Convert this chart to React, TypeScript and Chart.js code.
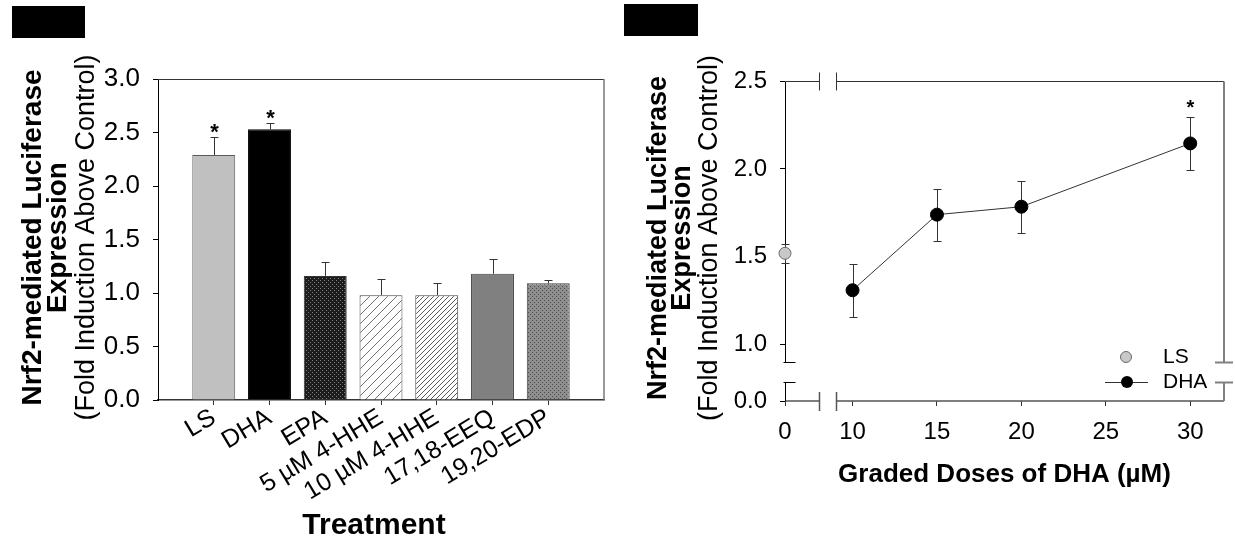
import React, { useEffect, useRef } from 'react';
import { Chart, registerables, LinearScale } from 'chart.js';

Chart.register(...registerables);

// ---------------- Panel A data (bar chart) ----------------
const treatments = ['LS', 'DHA', 'EPA', '5 µM 4-HHE', '10 µM 4-HHE', '17,18-EEQ', '19,20-EDP'];
const foldInduction = [2.29, 2.53, 1.16, 0.98, 0.98, 1.18, 1.09];
const foldInductionSE = [0.17, 0.06, 0.13, 0.15, 0.11, 0.14, 0.03];
const treatmentSignificant = [true, true, false, false, false, false, false];
const treatmentYTicks = [0, 0.5, 1.0, 1.5, 2.0, 2.5, 3.0];

// ---------------- Panel B data (dose response) ----------------
const lsDose = [0];
const lsMean = [1.52];
const lsSE = [0.055];
const dhaDoses = [10, 15, 20, 30];
const dhaMean = [1.31, 1.74, 1.785, 2.145];
const dhaSE = [0.15, 0.148, 0.149, 0.15];
const dhaSignificant = [false, false, false, true];
const doseTicks = [0, 10, 15, 20, 25, 30];
const doseYTicks = [0, 1.0, 1.5, 2.0, 2.5];

// ---------------- Text ----------------
const yTitleLines = ['Nrf2-mediated Luciferase', 'Expression', '(Fold Induction Above Control)'];
const xTitleA = 'Treatment';
const xTitleB = 'Graded Doses of DHA (µM)';
const legendLabels = ['LS', 'DHA'];

const FONT = '"Liberation Sans", Arial, Helvetica, sans-serif';

// ---------------- Broken linear scale ----------------
function compress(v: number, f: number, t: number, g: number) {
  if (v <= f) return v;
  if (v >= t) return v - (t - f) + g;
  return f + ((v - f) / (t - f)) * g;
}
function expand(c: number, f: number, t: number, g: number) {
  if (c <= f) return c;
  if (c >= f + g) return c + (t - f) - g;
  return f + ((c - f) / g) * (t - f);
}
class BrokenLinearScale extends LinearScale {
  static id = 'brokenLinear';
  static defaults = {};
  brk() {
    const o: any = this.options;
    return [o.breakFrom, o.breakTo, o.breakGap];
  }
  getPixelForValue(value: any) {
    if (value === null || value === undefined) return NaN;
    const [f, t, g] = this.brk();
    return super.getPixelForValue(compress(value, f, t, g));
  }
  getValueForPixel(pixel: number) {
    const [f, t, g] = this.brk();
    return expand(super.getValueForPixel(pixel) as number, f, t, g);
  }
}
Chart.register(BrokenLinearScale as any);

// ---------------- helpers ----------------
function makePattern(size: number, draw: (g: CanvasRenderingContext2D, s: number) => void) {
  const c = document.createElement('canvas');
  c.width = size;
  c.height = size;
  const g = c.getContext('2d')!;
  draw(g, size);
  return g.createPattern(c, 'repeat')!;
}
function hatch(bg: string, fg: string) {
  return (g: CanvasRenderingContext2D, s: number) => {
    g.fillStyle = bg;
    g.fillRect(0, 0, s, s);
    g.strokeStyle = fg;
    g.lineWidth = 1;
    g.beginPath();
    g.moveTo(0, s);
    g.lineTo(s, 0);
    g.moveTo(-1, 1);
    g.lineTo(1, -1);
    g.moveTo(s - 1, s + 1);
    g.lineTo(s + 1, s - 1);
    g.stroke();
  };
}
function dots(bg: string, fg: string) {
  return (g: CanvasRenderingContext2D, s: number) => {
    g.fillStyle = bg;
    g.fillRect(0, 0, s, s);
    g.fillStyle = fg;
    g.fillRect(0, 0, 1, 1);
    g.fillRect(2, 2, 1, 1);
  };
}
function line(ctx: CanvasRenderingContext2D, x1: number, y1: number, x2: number, y2: number) {
  ctx.beginPath();
  ctx.moveTo(x1, y1);
  ctx.lineTo(x2, y2);
  ctx.stroke();
}
function drawYTitle(ctx: CanvasRenderingContext2D, baselines: number[], sizes: number[], yc: number) {
  yTitleLines.forEach((t, i) => {
    ctx.save();
    ctx.translate(baselines[i], yc);
    ctx.rotate(-Math.PI / 2);
    ctx.font = `${i < 2 ? 'bold ' : ''}${sizes[i]}px ${FONT}`;
    ctx.fillStyle = '#000';
    ctx.textAlign = 'center';
    ctx.textBaseline = 'alphabetic';
    ctx.fillText(t, 0, 0);
    ctx.restore();
  });
}

// ---------------- Panel A plugin ----------------
const panelAPlugin = {
  id: 'panelA',
  afterDatasetsDraw(chart: any) {
    const { ctx, scales } = chart;
    const x = scales.x;
    const y = scales.y;
    ctx.save();
    ctx.strokeStyle = '#333';
    ctx.lineWidth = 1;
    foldInduction.forEach((m, i) => {
      const px = Math.round(x.getPixelForValue(i + 1)) + 0.5;
      const y0 = y.getPixelForValue(m);
      const y1 = Math.round(y.getPixelForValue(m + foldInductionSE[i])) + 0.5;
      line(ctx, px, y0, px, y1);
      line(ctx, px - 4, y1, px + 4, y1);
      if (treatmentSignificant[i]) {
        ctx.fillStyle = '#000';
        ctx.font = `bold 22px ${FONT}`;
        ctx.textAlign = 'center';
        ctx.textBaseline = 'alphabetic';
        ctx.fillText('*', px, y1 + 1);
      }
    });
    ctx.restore();
  },
  afterDraw(chart: any) {
    const { ctx, chartArea: a } = chart;
    ctx.save();
    ctx.strokeStyle = '#333';
    ctx.lineWidth = 1;
    line(ctx, a.left, Math.round(a.top) + 0.5, a.right, Math.round(a.top) + 0.5);
    ctx.strokeStyle = '#777';
    ctx.lineWidth = 1.5;
    line(ctx, a.right, a.top, a.right, a.bottom);
    drawYTitle(ctx, [a.left - 117, a.left - 92, a.left - 64], [28, 28, 27], (a.top + a.bottom) / 2 - 2);
    ctx.font = `bold 30px ${FONT}`;
    ctx.fillStyle = '#000';
    ctx.textAlign = 'center';
    ctx.textBaseline = 'alphabetic';
    ctx.fillText(xTitleA, (a.left + a.right) / 2 - 7, a.bottom + 134);
    ctx.restore();
  },
};

// ---------------- Panel B plugin ----------------
function errBar(ctx: CanvasRenderingContext2D, x: any, y: any, xv: number, m: number, se: number) {
  const px = Math.round(x.getPixelForValue(xv)) + 0.5;
  const yt = Math.round(y.getPixelForValue(m + se)) + 0.5;
  const yb = Math.round(y.getPixelForValue(m - se)) + 0.5;
  line(ctx, px, yt, px, yb);
  line(ctx, px - 4, yt, px + 4, yt);
  line(ctx, px - 4, yb, px + 4, yb);
  return { px, yt };
}
const panelBPlugin = {
  id: 'panelB',
  beforeDatasetsDraw(chart: any) {
    const { ctx, chartArea: a, scales } = chart;
    const x = scales.x;
    const y = scales.y;
    const xo: any = x.options;
    const yo: any = y.options;
    const xb1 = Math.round(x.getPixelForValue(xo.breakFrom)) + 0.5;
    const xb2 = Math.round(x.getPixelForValue(xo.breakTo)) + 0.5;
    const yb1 = Math.round(y.getPixelForValue(yo.breakTo)) + 0.5;
    const yb2 = Math.round(y.getPixelForValue(yo.breakFrom)) + 0.5;
    const L = Math.round(a.left) + 0.5;
    const R = Math.round(a.right);
    const T = Math.round(a.top) + 0.5;
    const B = Math.round(a.bottom);
    ctx.save();
    // top frame
    ctx.strokeStyle = '#333';
    ctx.lineWidth = 1;
    line(ctx, L, T, xb1, T);
    line(ctx, xb1, T - 9, xb1, T + 9);
    line(ctx, xb2, T, R, T);
    line(ctx, xb2, T - 9, xb2, T + 9);
    // bottom axis
    ctx.strokeStyle = '#555';
    ctx.lineWidth = 1.5;
    line(ctx, L, B, xb1, B);
    line(ctx, xb1, B - 9, xb1, B + 10);
    line(ctx, xb2, B, R, B);
    line(ctx, xb2, B - 9, xb2, B + 10);
    // right frame
    ctx.strokeStyle = '#808080';
    ctx.lineWidth = 2;
    line(ctx, R, T, R, yb1);
    line(ctx, R - 9, yb1, R + 9, yb1);
    line(ctx, R, yb2, R, B);
    line(ctx, R - 9, yb2, R + 9, yb2);
    // left axis
    ctx.strokeStyle = '#000';
    ctx.lineWidth = 1;
    line(ctx, L, T, L, yb1);
    line(ctx, L - 2, yb1, L + 10, yb1);
    line(ctx, L, yb2, L, B);
    line(ctx, L - 2, yb2, L + 10, yb2);
    // error bars
    ctx.strokeStyle = '#333';
    ctx.lineWidth = 1;
    lsDose.forEach((d, i) => errBar(ctx, x, y, d, lsMean[i], lsSE[i]));
    dhaDoses.forEach((d, i) => {
      const { px, yt } = errBar(ctx, x, y, d, dhaMean[i], dhaSE[i]);
      if (dhaSignificant[i]) {
        ctx.fillStyle = '#000';
        ctx.font = `bold 20px ${FONT}`;
        ctx.textAlign = 'center';
        ctx.textBaseline = 'alphabetic';
        ctx.fillText('*', px, yt - 4);
      }
    });
    ctx.restore();
  },
  afterDraw(chart: any) {
    const { ctx, chartArea: a } = chart;
    ctx.save();
    // legend
    const lx = a.right - 98;
    const ly1 = a.bottom - 44;
    const ly2 = a.bottom - 19;
    ctx.fillStyle = '#c8c8c8';
    ctx.strokeStyle = '#6a6a6a';
    ctx.lineWidth = 1;
    ctx.beginPath();
    ctx.arc(lx, ly1, 5.5, 0, Math.PI * 2);
    ctx.fill();
    ctx.stroke();
    ctx.strokeStyle = '#333';
    line(ctx, lx - 21, ly2 + 0.5, lx + 22, ly2 + 0.5);
    ctx.fillStyle = '#000';
    ctx.beginPath();
    ctx.arc(lx + 1, ly2, 6, 0, Math.PI * 2);
    ctx.fill();
    ctx.font = `21px ${FONT}`;
    ctx.textAlign = 'left';
    ctx.textBaseline = 'middle';
    ctx.fillText(legendLabels[0], a.right - 61, ly1);
    ctx.fillText(legendLabels[1], a.right - 61, ly2);
    // titles
    drawYTitle(ctx, [a.left - 119, a.left - 95, a.left - 68], [27, 27, 27], (a.top + a.bottom) / 2 - 3);
    ctx.font = `bold 26px ${FONT}`;
    ctx.textAlign = 'center';
    ctx.textBaseline = 'alphabetic';
    ctx.fillText(xTitleB, (a.left + a.right) / 2, a.bottom + 81);
    ctx.restore();
  },
};

function configA(): any {
  const fills: any[] = [
    '#c0c0c0',
    '#000000',
    makePattern(4, dots('#1c1c1c', '#808080')),
    makePattern(9, hatch('#ffffff', '#707070')),
    makePattern(5, hatch('#ffffff', '#5a5a5a')),
    '#808080',
    makePattern(4, dots('#8e8e8e', '#4a4a4a')),
  ];
  const borders = ['#5a5a5a', '#000', '#333', '#444', '#444', '#444', '#444'];
  const lastIdx = treatments.length + 1;
  return {
    type: 'bar',
    data: {
      labels: ['', ...treatments, ''],
      datasets: [
        {
          data: [null, ...foldInduction, null],
          backgroundColor: ['rgba(0,0,0,0)', ...fills, 'rgba(0,0,0,0)'],
          borderColor: ['rgba(0,0,0,0)', ...borders, 'rgba(0,0,0,0)'],
          borderWidth: 1,
          categoryPercentage: 1,
          barPercentage: 0.77,
        },
      ],
    },
    options: {
      responsive: false,
      animation: false,
      devicePixelRatio: 1,
      events: [],
      layout: { padding: { left: 0, top: 79, right: 14, bottom: 0 } },
      plugins: { legend: { display: false }, tooltip: { enabled: false } },
      scales: {
        x: {
          type: 'category',
          offset: false,
          grid: {
            offset: false,
            drawOnChartArea: false,
            drawTicks: true,
            tickLength: 5,
            color: (c: any) => (c.index === 0 || c.index === lastIdx ? 'rgba(0,0,0,0)' : '#333'),
          },
          border: { display: true, color: '#333', width: 1.5 },
          ticks: {
            autoSkip: false,
            minRotation: 31,
            maxRotation: 31,
            padding: -2,
            color: '#000',
            font: { family: FONT, size: 25 },
          },
          afterFit: (s: any) => {
            s.height = 137;
          },
        },
        y: {
          type: 'linear',
          min: 0,
          max: 3,
          afterBuildTicks: (s: any) => {
            s.ticks = treatmentYTicks.map((v) => ({ value: v }));
          },
          grid: { drawOnChartArea: false, drawTicks: true, tickLength: 5, color: '#000' },
          border: { display: true, color: '#000', width: 1 },
          ticks: {
            padding: 13,
            color: '#000',
            font: { family: FONT, size: 26 },
            callback: (v: any) => Number(v).toFixed(1),
          },
          afterFit: (s: any) => {
            s.width = 158;
          },
        },
      },
    },
    plugins: [panelAPlugin],
  };
}

function configB(): any {
  return {
    type: 'scatter',
    data: {
      datasets: [
        {
          label: legendLabels[0],
          data: lsDose.map((d, i) => ({ x: d, y: lsMean[i] })),
          showLine: false,
          pointRadius: 6,
          pointBackgroundColor: '#c8c8c8',
          pointBorderColor: '#6a6a6a',
          pointBorderWidth: 1,
          clip: false,
        },
        {
          label: legendLabels[1],
          data: dhaDoses.map((d, i) => ({ x: d, y: dhaMean[i] })),
          showLine: true,
          borderColor: '#333',
          borderWidth: 1,
          pointRadius: 6.5,
          pointBackgroundColor: '#000',
          pointBorderColor: '#000',
          pointBorderWidth: 1,
          clip: false,
        },
      ],
    },
    options: {
      responsive: false,
      animation: false,
      devicePixelRatio: 1,
      events: [],
      layout: { padding: { left: 0, top: 81, right: 11, bottom: 0 } },
      plugins: { legend: { display: false }, tooltip: { enabled: false } },
      scales: {
        x: {
          type: 'brokenLinear',
          min: 0,
          max: 26,
          breakFrom: 2,
          breakTo: 9,
          breakGap: 1,
          bounds: 'data',
          afterBuildTicks: (s: any) => {
            s.ticks = doseTicks.map((v) => ({ value: v }));
          },
          grid: { drawOnChartArea: false, drawTicks: true, tickLength: 5, color: '#333' },
          border: { display: false },
          ticks: {
            autoSkip: false,
            maxRotation: 0,
            padding: 12,
            color: '#000',
            font: { family: FONT, size: 24 },
            callback: (v: any) => String(v),
          },
          afterFit: (s: any) => {
            s.height = 136;
          },
        },
        y: {
          type: 'brokenLinear',
          min: 0,
          max: 1.82,
          breakFrom: 0.11,
          breakTo: 0.9,
          breakGap: 0.11,
          bounds: 'data',
          afterBuildTicks: (s: any) => {
            s.ticks = doseYTicks.map((v) => ({ value: v }));
          },
          grid: { drawOnChartArea: false, drawTicks: true, tickLength: 5, color: '#000' },
          border: { display: false },
          ticks: {
            autoSkip: false,
            padding: 13,
            color: '#000',
            font: { family: FONT, size: 24 },
            callback: (v: any) => Number(v).toFixed(1),
          },
          afterFit: (s: any) => {
            s.width = 167;
          },
        },
      },
    },
    plugins: [panelBPlugin],
  };
}

export default function App() {
  const refA = useRef<HTMLCanvasElement>(null);
  const refB = useRef<HTMLCanvasElement>(null);
  useEffect(() => {
    const a = new Chart(refA.current!, configA());
    const b = new Chart(refB.current!, configB());
    return () => {
      a.destroy();
      b.destroy();
    };
  }, []);
  return (
    <div
      style={{
        position: 'absolute',
        left: 0,
        top: 0,
        width: 1235,
        height: 537,
        background: '#fff',
        overflow: 'hidden',
      }}
    >
      <canvas ref={refA} width={618} height={537} style={{ position: 'absolute', left: 0, top: 0 }} />
      <canvas ref={refB} width={617} height={537} style={{ position: 'absolute', left: 618, top: 0 }} />
      <div style={{ position: 'absolute', left: 12, top: 6, width: 73, height: 32, background: '#000' }} />
      <div style={{ position: 'absolute', left: 624, top: 4, width: 74, height: 32, background: '#000' }} />
    </div>
  );
}
